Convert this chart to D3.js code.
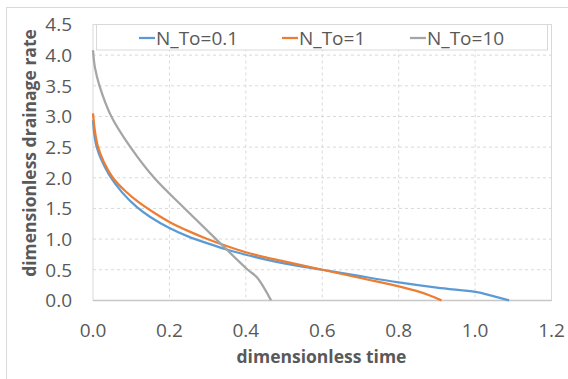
<!DOCTYPE html>
<html>
<head>
<meta charset="utf-8">
<script src="https://cdn.jsdelivr.net/npm/d3@7"></script>
<style>
  body { margin: 0; background: #fff; }
  text { font-family: "Open Sans", Lato, sans-serif; fill: #595959; }
</style>
</head>
<body>
<div id="chart"></div>
<script>
// series: [dimensionless time, dimensionless drainage rate]
var seriesNames = ["N_To=0.1", "N_To=1", "N_To=10"];
var seriesColors = ["#5B9BD5", "#ED7D31", "#A5A5A5"];

var nTo01 = [[0,2.94],[0.004,2.68],[0.009,2.52],[0.02,2.32],[0.042,2.05],[0.075,1.77],[0.115,1.52],
  [0.15,1.36],[0.2,1.18],[0.25,1.04],[0.3,0.93],[0.35,0.83],[0.4,0.745],[0.45,0.67],[0.5,0.605],
  [0.6,0.5],[0.7,0.395],[0.8,0.295],[0.9,0.21],[1.0,0.14],[1.02,0.115],[1.089,0]];
var nTo1 = [[0,3.05],[0.005,2.76],[0.012,2.53],[0.028,2.26],[0.052,2.0],[0.085,1.78],[0.122,1.59],
  [0.16,1.43],[0.2,1.28],[0.25,1.13],[0.296,1.01],[0.344,0.9],[0.4,0.785],[0.45,0.705],[0.5,0.635],
  [0.6,0.5],[0.7,0.365],[0.8,0.23],[0.844,0.16],[0.88,0.085],[0.912,0]];
var nTo10 = [[0,4.08],[0.005,3.8],[0.017,3.5],[0.048,3.0],[0.098,2.5],[0.16,2.0],[0.24,1.5],
  [0.322,1.0],[0.405,0.5],[0.429,0.376],[0.466,0]];

var xTicks = [0, 0.2, 0.4, 0.6, 0.8, 1.0, 1.2];
var yTicks = [0, 0.5, 1.0, 1.5, 2.0, 2.5, 3.0, 3.5, 4.0, 4.5];

var width = 568, height = 379;
var plot = {left: 93, right: 551.5, top: 24.5, bottom: 300.4};

var svg = d3.select("#chart").append("svg")
    .attr("width", width)
    .attr("height", height);

// outer chart frame (runs off the picture at right and bottom)
svg.append("rect")
    .attr("x", 6.5).attr("y", 7.5)
    .attr("width", 600).attr("height", 400)
    .attr("fill", "#fff")
    .attr("stroke", "#d9d9d9");

var x = d3.scaleLinear().domain([0, 1.2]).range([plot.left, plot.right]);
var y = d3.scaleLinear().domain([0, 4.5]).range([plot.bottom, plot.top]);

// dashed grid
svg.append("g")
    .selectAll("line")
    .data(yTicks.slice(1, -1))
    .join("line")
    .attr("x1", plot.left).attr("x2", plot.right)
    .attr("y1", function(d) { return y(d); })
    .attr("y2", function(d) { return y(d); })
    .attr("stroke", "#d9d9d9")
    .attr("stroke-dasharray", "3,3");

svg.append("g")
    .selectAll("line")
    .data(xTicks.slice(1, -1))
    .join("line")
    .attr("y1", plot.top).attr("y2", plot.bottom)
    .attr("x1", function(d) { return x(d); })
    .attr("x2", function(d) { return x(d); })
    .attr("stroke", "#d9d9d9")
    .attr("stroke-dasharray", "3,3");

// plot border
svg.append("rect")
    .attr("x", plot.left).attr("y", plot.top)
    .attr("width", plot.right - plot.left)
    .attr("height", plot.bottom - plot.top)
    .attr("fill", "none")
    .attr("stroke", "#d9d9d9");

// x axis line
svg.append("line")
    .attr("x1", plot.left).attr("x2", plot.right)
    .attr("y1", plot.bottom).attr("y2", plot.bottom)
    .attr("stroke", "#c8c8c8")
    .attr("stroke-width", 1.5);

// tick labels
svg.append("g")
    .selectAll("text")
    .data(yTicks)
    .join("text")
    .attr("x", 72)
    .attr("y", function(d) { return y(d); })
    .attr("dy", "0.36em")
    .attr("text-anchor", "end")
    .style("font-size", "19px")
    .text(function(d) { return d3.format(".1f")(d); });

svg.append("g")
    .selectAll("text")
    .data(xTicks)
    .join("text")
    .attr("x", function(d) { return x(d); })
    .attr("y", 337)
    .attr("text-anchor", "middle")
    .style("font-size", "19px")
    .text(function(d) { return d3.format(".1f")(d); });

// axis titles
svg.append("text")
    .attr("x", 321.5).attr("y", 363)
    .attr("text-anchor", "middle")
    .style("font-size", "17.5px")
    .style("font-weight", "bold")
    .text("dimensionless time");

svg.append("text")
    .attr("transform", "translate(36,153) rotate(-90)")
    .attr("text-anchor", "middle")
    .style("font-size", "17.5px")
    .style("font-weight", "bold")
    .text("dimensionless drainage rate");

// lines
var line = d3.line()
    .x(function(d) { return x(d[0]); })
    .y(function(d) { return y(d[1]); })
    .curve(d3.curveCatmullRom.alpha(0.5));

[nTo01, nTo1, nTo10].forEach(function(data, i) {
  svg.append("path")
      .datum(data)
      .attr("fill", "none")
      .attr("stroke", seriesColors[i])
      .attr("stroke-width", 2.25)
      .attr("stroke-linejoin", "round")
      .attr("d", line);
});

// legend, drawn over the top of the plot
var legend = svg.append("g");
legend.append("rect")
    .attr("x", 96.5).attr("y", 24.5)
    .attr("width", 451).attr("height", 25.5)
    .attr("fill", "#fff")
    .attr("stroke", "#d9d9d9");

var legendX = [139, 282, 410];
seriesNames.forEach(function(name, i) {
  legend.append("line")
      .attr("x1", legendX[i]).attr("x2", legendX[i] + 16)
      .attr("y1", 38).attr("y2", 38)
      .attr("stroke", seriesColors[i])
      .attr("stroke-width", 2.25);
  legend.append("text")
      .attr("x", legendX[i] + 17)
      .attr("y", 44.5)
      .style("font-size", "19px")
      .text(name);
});
</script>
</body>
</html>
